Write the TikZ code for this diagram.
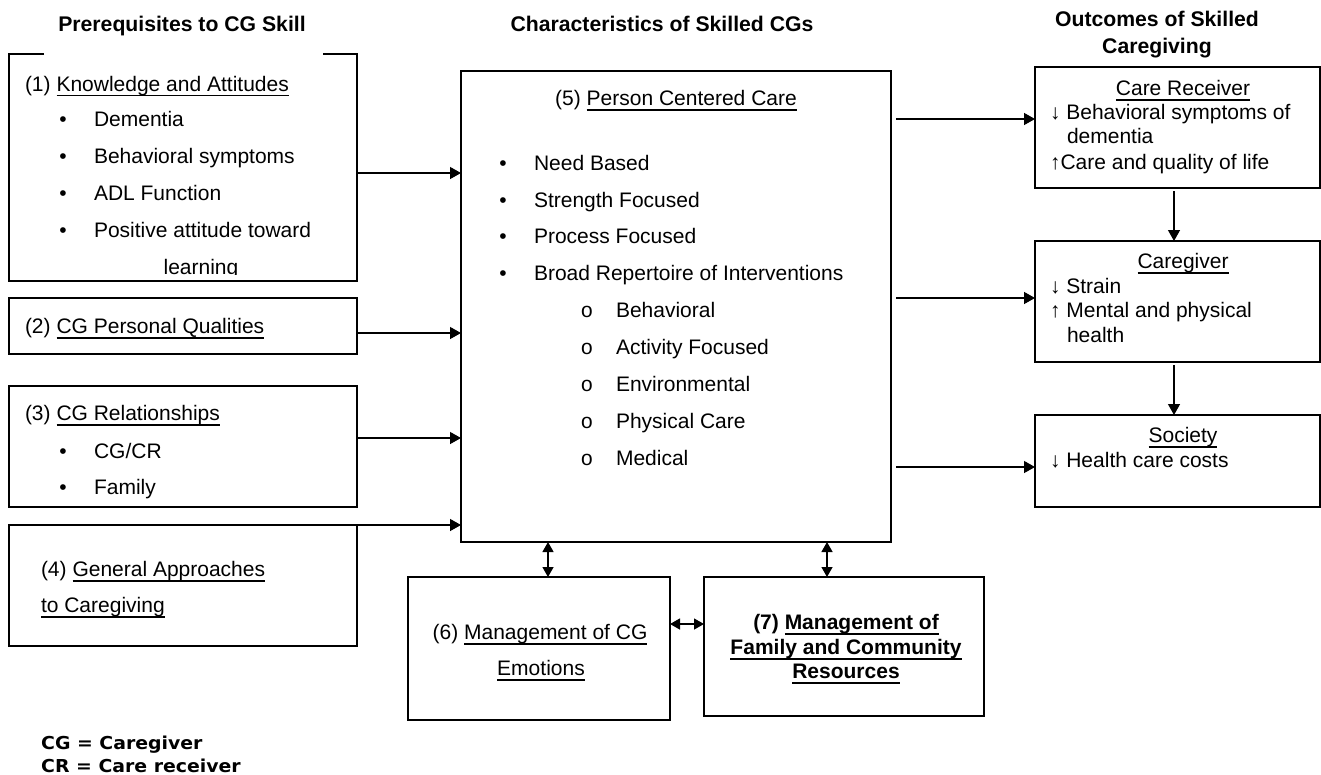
\documentclass[tikz,border=0pt]{standalone}
\usepackage{fontspec}
\usepackage{graphicx}
\setmainfont{Liberation Sans}
\setmonofont{Liberation Mono}
\newfontfamily\legendfont{DejaVu Sans}
\usetikzlibrary{arrows.meta}
\newcommand{\uln}[1]{\setbox0\hbox{#1}\rlap{\rule[-5pt]{\wd0}{1.1pt}}\box0}
\tikzset{
  box/.style={draw, line width=1.4pt, inner sep=0pt, outer sep=0pt, rectangle},
  txt/.style={inner sep=0pt, outer sep=0pt, anchor=base west, font=\fontsize{21}{25}\selectfont},
  ctxt/.style={txt, anchor=base},
  bul/.style={txt, anchor=base},
  sbul/.style={txt, anchor=base, font=\fontsize{21}{25}\ttfamily},
  hdr/.style={inner sep=0pt, anchor=base, font=\fontsize{21.2}{27}\selectfont\bfseries},
  lgd/.style={inner sep=0pt, anchor=base west, font=\fontsize{17.8}{21}\legendfont\bfseries},
  arr/.style={line width=1.3pt, -{Triangle[length=11pt,width=12pt]}},
  darr/.style={line width=1.3pt, {Triangle[length=10pt,width=11pt]}-{Triangle[length=10pt,width=11pt]}}
}
\begin{document}
\begin{tikzpicture}[x=1pt,y=-1pt]
\useasboundingbox (0,0) rectangle (1321,774);

% headers
\node[hdr] (h1) at (182,31) {Prerequisites to CG Skill};
\node[hdr] (h2) at (662,31) {Characteristics of Skilled CGs};
\node[hdr] (h3a) at (1157,26.7) {Outcomes of Skilled};
\node[hdr] (h3b) at (1157,53.3) {Caregiving};

% boxes
\node[rectangle, inner sep=0pt, outer sep=0pt, minimum width=348pt, minimum height=227pt] (b1) at (183,167.5) {};
\draw[line width=1.4pt] (44,54) -- (b1.north west) -- (b1.south west) -- (b1.south east) -- (b1.north east) -- (323,54);
\node[box, minimum width=348pt, minimum height=56pt] (b2) at (183,326) {};
\node[box, minimum width=348pt, minimum height=121pt] (b3) at (183,446.5) {};
\node[box, minimum width=348pt, minimum height=121pt] (b4) at (183,585.5) {};
\node[box, minimum width=430pt, minimum height=471pt] (b5) at (676,306.5) {};
\node[box, minimum width=285pt, minimum height=121pt] (cr) at (1177.5,127.5) {};
\node[box, minimum width=285pt, minimum height=121pt] (cg) at (1177.5,301.5) {};
\node[box, minimum width=285pt, minimum height=92pt] (so) at (1177.5,461) {};
\node[box, minimum width=262pt, minimum height=143pt] (b6) at (539,648.5) {};
\node[box, minimum width=280pt, minimum height=139pt] (b7) at (844,646.5) {};

% box 1 text
\node[txt] (t1) at (25,91) {(1) \uln{Knowledge and Attitudes}};
\node[bul] (t1b1) at (63,126.5) {•};
\node[txt] (t1i1) at (94,126.5) {Dementia};
\node[bul] (t1b2) at (63,163.5) {•};
\node[txt] (t1i2) at (94,163.5) {Behavioral symptoms};
\node[bul] (t1b3) at (63,200.5) {•};
\node[txt] (t1i3) at (94,200.5) {ADL Function};
\node[bul] (t1b4) at (63,237.5) {•};
\node[txt] (t1i4) at (94,237.5) {Positive attitude toward};
\begin{scope}
\clip (9,240) rectangle (357,274.5);
\node[ctxt] (t1i5) at (201,274) {learning};
\end{scope}

% box 2-4 text
\node[txt] (t2) at (25,333.5) {(2) \uln{CG Personal Qualities}};
\node[txt] (t3) at (25,420.5) {(3) \uln{CG Relationships}};
\node[bul] (t3b1) at (63,458.5) {•};
\node[txt] (t3i1) at (94,458.5) {CG/CR};
\node[bul] (t3b2) at (63,494.5) {•};
\node[txt] (t3i2) at (94,494.5) {Family};
\node[txt] (t4a) at (41,576.5) {(4) \uln{General Approaches}};
\node[txt] (t4b) at (41,612.5) {\uln{to Caregiving}};

% box 5 text
\node[ctxt] (t5) at (676,105.5) {(5) \uln{Person Centered Care}};
\node[bul] (t5b1) at (503,170.5) {•};
\node[txt] (t5i1) at (534,170.5) {Need Based};
\node[bul] (t5b2) at (503,207.5) {•};
\node[txt] (t5i2) at (534,207.5) {Strength Focused};
\node[bul] (t5b3) at (503,243.5) {•};
\node[txt] (t5i3) at (534,243.5) {Process Focused};
\node[bul] (t5b4) at (503,280.5) {•};
\node[txt] (t5i4) at (534,280.5) {Broad Repertoire of Interventions};
\node[sbul] (t5s1) at (587,317.5) {o};
\node[txt] (t5j1) at (616,317.5) {Behavioral};
\node[sbul] (t5s2) at (587,354.5) {o};
\node[txt] (t5j2) at (616,354.5) {Activity Focused};
\node[sbul] (t5s3) at (587,391.5) {o};
\node[txt] (t5j3) at (616,391.5) {Environmental};
\node[sbul] (t5s4) at (587,428.5) {o};
\node[txt] (t5j4) at (616,428.5) {Physical Care};
\node[sbul] (t5s5) at (587,465.5) {o};
\node[txt] (t5j5) at (616,465.5) {Medical};

% right boxes text
\node[ctxt] (crh) at (1183,95.5) {\uln{Care Receiver}};
\node[txt] (cr1) at (1050,119.5) {↓ Behavioral symptoms of};
\node[txt] (cr2) at (1067,143.5) {dementia};
\node[txt] (cr3) at (1050,169.5) {↑Care and quality of life};
\node[ctxt] (cgh) at (1183,268.5) {\uln{Caregiver}};
\node[txt] (cg1) at (1050,293.5) {↓ Strain};
\node[txt] (cg2) at (1050,317.5) {↑ Mental and physical};
\node[txt] (cg3) at (1067,342.5) {health};
\node[ctxt] (soh) at (1183,442.5) {\uln{Society}};
\node[txt] (so1) at (1050,467.5) {↓ Health care costs};

% bottom boxes text
\node[ctxt] (t6a) at (540,639.5) {(6) \uln{Management of CG}};
\node[ctxt] (t6b) at (541,675.5) {\uln{Emotions}};
\node[ctxt, font=\fontsize{21}{25}\selectfont\bfseries] (t7a) at (846,629.5) {(7) \uln{Management of}};
\node[ctxt, font=\fontsize{21}{25}\selectfont\bfseries] (t7b) at (846,654.5) {\uln{Family and Community}};
\node[ctxt, font=\fontsize{21}{25}\selectfont\bfseries] (t7c) at (846,678.5) {\uln{Resources}};

% legend
\node[lgd] (l1) at (41,749) {\scalebox{1.06}[1]{CG = Caregiver}};
\node[lgd] (l2) at (41,772.3) {\scalebox{1.06}[1]{CR = Care receiver}};

% connectors left -> center
\draw[arr] (b1.east |- 0,173) -- (b5.west |- 0,173);
\draw[arr] (b2.east |- 0,333) -- (b5.west |- 0,333);
\draw[arr] (b3.east |- 0,438) -- (b5.west |- 0,438);
\draw[arr] (b4.north east) -- (b5.west |- b4.north east);

% center -> right
\coordinate (o1) at (896,119);
\coordinate (o2) at (896,298);
\coordinate (o3) at (896,467);
\draw[arr] (o1) -- (cr.west |- o1);
\draw[arr] (o2) -- (cg.west |- o2);
\draw[arr] (o3) -- (so.west |- o3);

% right vertical
\coordinate (d1) at (1174,191);
\coordinate (d2) at (1174,365);
\draw[arr] (d1) -- (cg.north -| d1);
\draw[arr] (d2) -- (so.north -| d2);

% bottom double arrows
\draw[darr] (b5.south -| 548,0) -- (b6.north -| 548,0);
\draw[darr] (b5.south -| 827,0) -- (b7.north -| 827,0);
\draw[darr] (b6.east |- 0,624) -- (b7.west |- 0,624);
\end{tikzpicture}
\end{document}
